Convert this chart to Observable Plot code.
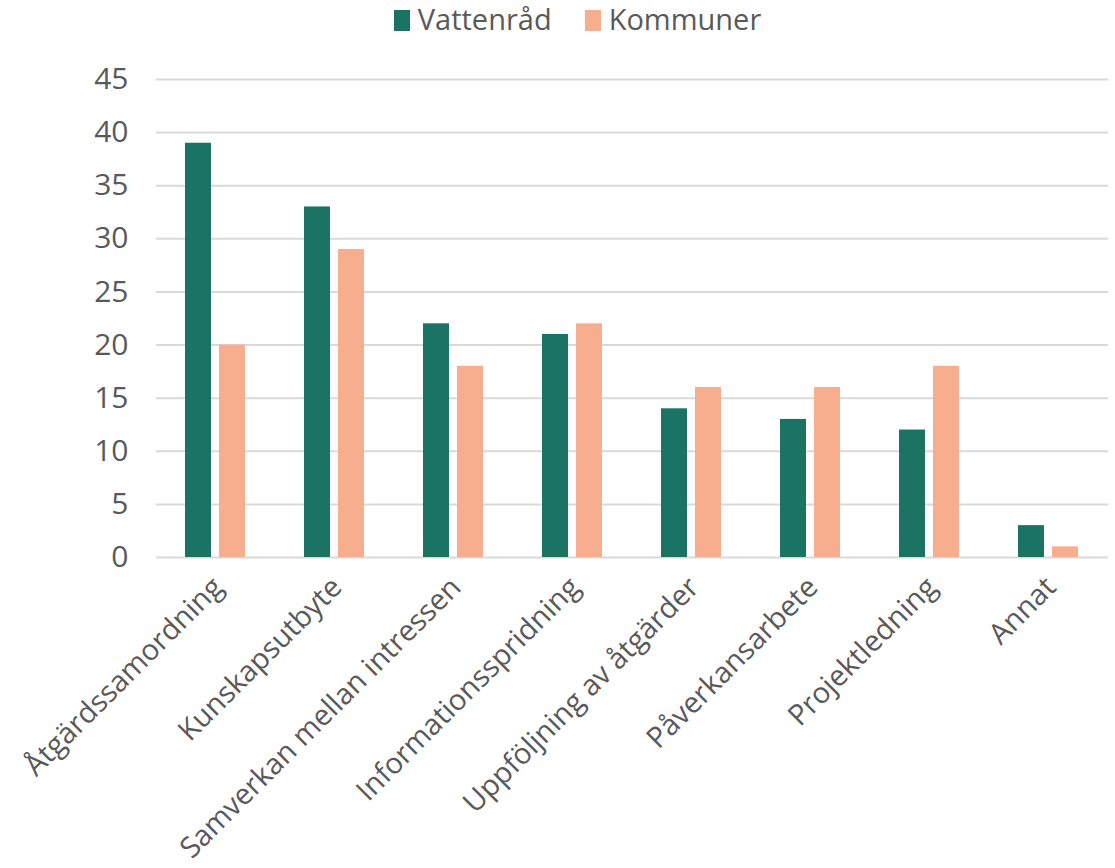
<!DOCTYPE html>
<html><head><meta charset="utf-8">
<script src="https://cdn.jsdelivr.net/npm/d3@7"></script>
<script src="https://cdn.jsdelivr.net/npm/@observablehq/plot@0.6"></script>
<style>
body{margin:0;background:#fff;font-family:"Open Sans",sans-serif;}
#legend{height:45px;display:flex;justify-content:center;align-items:center;gap:33px;font-size:29px;color:#595959;padding-left:40px;padding-bottom:8px;box-sizing:border-box;}
#legend span.sw{display:inline-block;width:16px;height:21px;margin-right:8px;vertical-align:-1px;}
</style></head>
<body>
<div id="legend"></div>
<div id="chart"></div>
<script>
const categories = ["Åtgärdssamordning","Kunskapsutbyte","Samverkan mellan intressen","Informationsspridning","Uppföljning av åtgärder","Påverkansarbete","Projektledning","Annat"];
const series = ["Vattenråd","Kommuner"];
const colors = ["#1b7364","#f7ae8f"];
const vattenrad = [39,33,22,21,14,13,12,3];
const kommuner = [20,29,18,22,16,16,18,1];
const yTicks = [0,5,10,15,20,25,30,35,40,45];

const data = categories.flatMap((c,i)=>[
  {category:c, series:series[0], value:vattenrad[i]},
  {category:c, series:series[1], value:kommuner[i]}
]);

const legend = document.getElementById("legend");
series.forEach((s,i)=>{
  const item = document.createElement("div");
  item.innerHTML = `<span class="sw" style="background:${colors[i]}"></span>${s}`;
  legend.appendChild(item);
});

const chart = Plot.plot({
  width:1115, height:823,
  marginTop:34, marginBottom:311, marginLeft:155, marginRight:7,
  style:{fontFamily:"Open Sans", fontSize:"28px", color:"#595959", background:"white"},
  fx:{domain:categories, padding:0, label:null},
  x:{domain:series, paddingInner:0.235, paddingOuter:0.867, axis:null},
  y:{domain:[0,45], label:null},
  color:{domain:series, range:colors},
  marks:[
    Plot.gridY(yTicks, {stroke:"#d9d9d9", strokeOpacity:1, strokeWidth:2}),
    Plot.axisY(yTicks, {tickSize:0, tickPadding:28, fontSize:30, label:null}),
    Plot.axisFx({anchor:"bottom", tickRotate:-45, tickSize:0, tickPadding:25, dx:2, fontSize:29, label:null}),
    Plot.barY(data, {fx:"category", x:"series", y:"value", fill:"series"})
  ]
});
document.getElementById("chart").appendChild(chart);
</script>
</body></html>
